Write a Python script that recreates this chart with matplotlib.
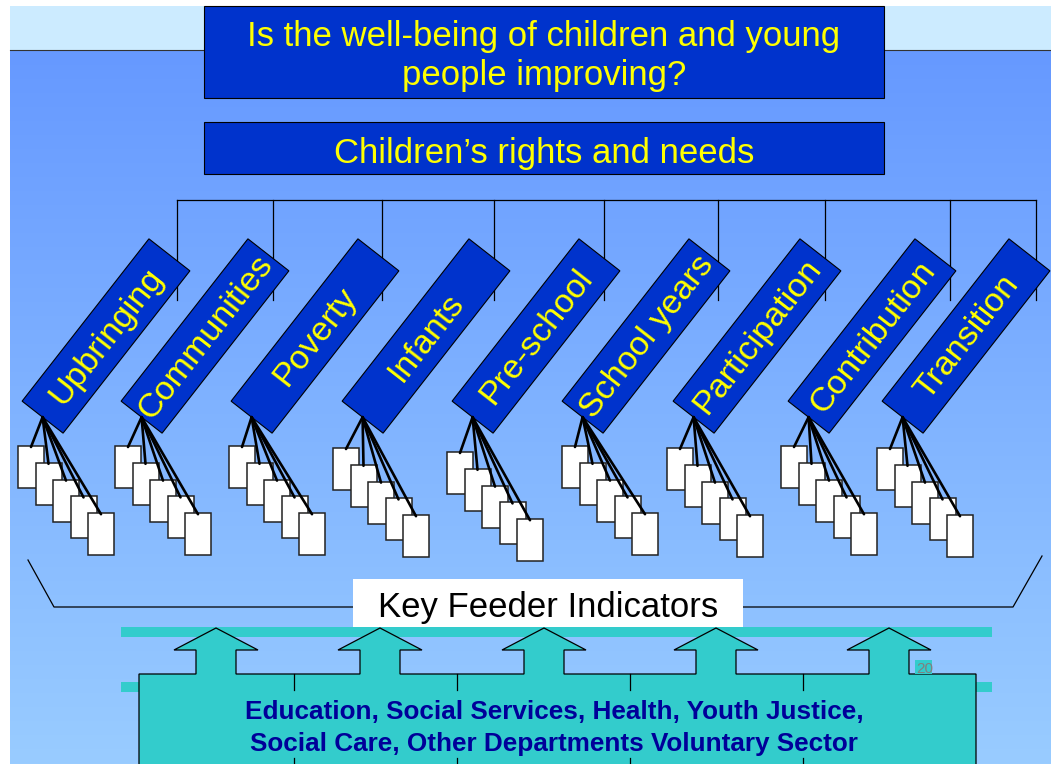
import numpy as np
import matplotlib
matplotlib.use("Agg")
import matplotlib.pyplot as plt
from matplotlib.patches import Polygon, Rectangle

plt.rcParams["font.family"] = ["Liberation Sans", "DejaVu Sans"]

# text
title = "Is the well-being of children and young\npeople improving?"
subtitle = "Children\u2019s rights and needs"
topics = ["Upbringing", "Communities", "Poverty", "Infants", "Pre-school",
          "School years", "Participation", "Contribution", "Transition"]
feeder_label = "Key Feeder Indicators"
sectors = "Education, Social Services, Health, Youth Justice,\nSocial Care, Other Departments Voluntary Sector"
page_no = "20"

# layout (pixels)
topic_x = [106, 205, 315, 426, 536, 646, 757, 872, 966]
connector_x = [177, 273, 382, 494, 604, 718, 825, 950, 1036]
card_x0 = [18, 115, 229, 333, 447, 562, 667, 781, 877]
card_y0 = [446, 446, 446, 448, 452, 446, 448, 446, 448]
arrow_x = [216, 380, 544, 716, 889]
divider_x = [294, 457, 630, 803]

W, H = 1051, 764
fig = plt.figure(figsize=(W / 100, H / 100), dpi=100)
ax = fig.add_axes([0, 0, 1, 1])
ax.set_xlim(0, W)
ax.set_ylim(H, 0)
ax.axis("off")

# background gradient
top = np.array([0x66, 0x99, 0xFF]) / 255
bot = np.array([0x99, 0xCC, 0xFF]) / 255
t = np.linspace(0, 1, 300)[:, None, None]
grad = top * (1 - t) + bot * t
ax.imshow(grad, extent=(10, W, H, 50), aspect="auto", zorder=0)
ax.add_patch(Rectangle((10, 6), W - 10, 44, facecolor="#CCEBFF", edgecolor="none", zorder=1))
ax.plot([10, W], [50, 50], color="#333333", lw=0.8, zorder=1)

# header boxes
ax.add_patch(Rectangle((204, 6), 680, 92, facecolor="#0033CC", edgecolor="black", lw=0.8, zorder=3))
ax.text(544, 56, title, color="#FFFF00", fontsize=25, ha="center", va="center",
        linespacing=1.22, zorder=4)
ax.add_patch(Rectangle((204, 122), 680, 52, facecolor="#0033CC", edgecolor="black", lw=0.8, zorder=3))
ax.text(544, 154, subtitle, color="#FFFF00", fontsize=25, ha="center", va="center", zorder=4)

# connector tree
ax.plot([connector_x[0], connector_x[-1]], [200, 200], color="black", lw=0.9, zorder=2)
for cx in connector_x:
    ax.plot([cx, cx], [200, 300], color="black", lw=0.9, zorder=2)

# rotated topic boxes with card stacks
theta = np.deg2rad(52)
u = np.array([np.cos(theta), -np.sin(theta)])
v = np.array([np.sin(theta), np.cos(theta)])
half_l, half_w = 103, 26
cy = 336
for name, x, x0, y0 in zip(topics, topic_x, card_x0, card_y0):
    c = np.array([x, cy])
    corners = [c + half_l * u - half_w * v, c + half_l * u + half_w * v,
               c - half_l * u + half_w * v, c - half_l * u - half_w * v]
    ax.add_patch(Polygon(corners, closed=True, facecolor="#0033CC", edgecolor="black",
                         lw=0.8, zorder=5))
    ax.text(x + 1, cy + 1, name, color="#FFFF00", fontsize=24.5, rotation=52,
            rotation_mode="anchor", ha="center", va="center", zorder=6)
    anchor = c - half_l * u
    for k in range(5):
        lx = x0 + 17.5 * k
        ly = y0 + 16.8 * k
        ax.add_patch(Rectangle((lx, ly), 26, 42, facecolor="white", edgecolor="#222222",
                               lw=1.1, zorder=7 + k * 0.01))
    for k in range(5):
        lx = x0 + 17.5 * k
        ly = y0 + 16.8 * k
        ax.plot([anchor[0], lx + 13], [anchor[1], ly + 1], color="black", lw=1.9,
                solid_capstyle="round", zorder=8)

# bracket and feeder label
ax.plot([28, 54, 353], [560, 607, 607], color="black", lw=0.9, zorder=2)
ax.plot([743, 1013, 1042], [607, 607, 556], color="black", lw=0.9, zorder=2)
ax.add_patch(Rectangle((353, 579), 390, 48, facecolor="white", edgecolor="none", zorder=3))
ax.text(548, 607, feeder_label, color="black", fontsize=25, ha="center", va="center", zorder=4)

# cyan bars
ax.add_patch(Rectangle((121, 627), 871, 10, facecolor="#33CCCC", edgecolor="none", zorder=2))
ax.add_patch(Rectangle((121, 682), 871, 10, facecolor="#33CCCC", edgecolor="none", zorder=2))

# block with arrows
pts = [(139, H + 5), (139, 674)]
for ax_c in arrow_x:
    pts += [(ax_c - 20, 674), (ax_c - 20, 650), (ax_c - 42, 650), (ax_c, 628),
            (ax_c + 42, 650), (ax_c + 20, 650), (ax_c + 20, 674)]
pts += [(976, 674), (976, H + 5)]
ax.add_patch(Polygon(pts, closed=True, facecolor="#33CCCC", edgecolor="black", lw=0.9, zorder=3))
for dx in divider_x:
    ax.plot([dx, dx], [674, 690], color="black", lw=0.9, zorder=4)
    ax.plot([dx, dx], [758, H], color="black", lw=0.9, zorder=4)
ax.text(554, 728, sectors, color="#000099", fontsize=18.8, fontweight="bold",
        ha="center", va="center", linespacing=1.4, zorder=5)

# page number
ax.add_patch(Rectangle((915, 660), 17, 14, facecolor="#33CCCC", edgecolor="none", zorder=4))
ax.text(925, 669, page_no, color="#808080", fontsize=11, ha="center", va="center", zorder=5)

fig.savefig("out.png", dpi=100)
